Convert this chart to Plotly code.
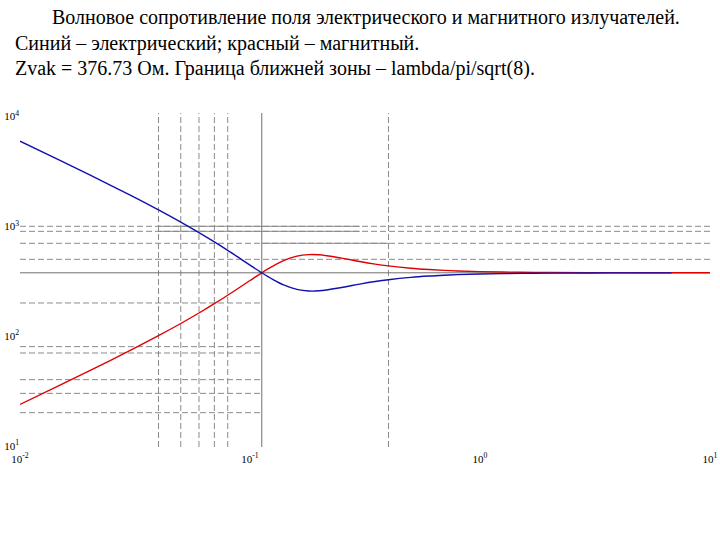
import plotly.graph_objects as go

# ---- data (distance r/lambda, wave impedance in Ohm) ----
dist_e = [0.01, 0.015, 0.02, 0.03, 0.04, 0.05, 0.06, 0.07, 0.08, 0.09, 0.1, 0.1125,
          0.125, 0.14, 0.16, 0.18, 0.2, 0.25, 0.3, 0.35, 0.4, 0.5, 0.6, 0.7, 0.8,
          1.0, 1.5, 2.0, 3.0, 5.0, 6.8]
z_electric = [5972, 3962, 2951, 1930, 1410, 1092, 876.2, 720.3, 603.1, 513.0, 442.9, 376.9,
              329.7, 292.1, 265.7, 257.0, 258.3, 276.9, 297.2, 313.6, 325.9, 342.3, 352.0, 358.2, 362.4,
              367.4, 372.5, 374.4, 375.7, 376.35, 376.52]

dist_h = [0.01, 0.015, 0.02, 0.03, 0.04, 0.05, 0.06, 0.07, 0.08, 0.09, 0.1, 0.1125,
          0.125, 0.14, 0.16, 0.18, 0.2, 0.25, 0.3, 0.35, 0.4, 0.5, 0.6, 0.7, 0.8,
          1.0, 1.5, 2.0, 3.0, 5.0, 10.0]
z_magnetic = [23.76, 35.82, 48.09, 73.53, 100.65, 129.97, 161.98, 197.04, 235.3, 276.7, 320.4, 376.6,
              430.5, 485.9, 534.2, 552.2, 549.5, 512.6, 477.5, 452.6, 435.5, 414.7, 403.2, 396.2, 391.6,
              386.3, 381.0, 379.1, 377.8, 377.11, 376.83]

z_vak = 376.73
near_zone = 0.1125

x_min, x_max = 0.01, 10.0
vgrid_x = [0.04, 0.05, 0.06, 0.07, 0.08, 0.4]
hgrid_full = [500, 700, 900, 1000]
hgrid_left = [20, 30, 40, 70, 80, 200]
hgrid_left_end = 0.1125

x_tick_vals = [0.01, 0.1, 1, 10]
x_tick_text = ["10<sup>-2</sup>", "10<sup>-1</sup>", "10<sup>0</sup>", "10<sup>1</sup>"]
y_tick_vals = [10, 100, 1000, 10000]
y_tick_text = ["10<sup>1</sup>", "10<sup>2</sup>", "10<sup>3</sup>", "10<sup>4</sup>"]

title_lines = [
    "Волновое сопротивление поля электрического и магнитного излучателей.",
    "Синий – электрический; красный – магнитный.",
    "Zvak = 376.73 Ом. Граница ближней зоны – lambda/pi/sqrt(8).",
]

Y_LOG_RANGE = [0.98815, 4.0328]
y_lo, y_hi = 10 ** Y_LOG_RANGE[0], 10 ** Y_LOG_RANGE[1]

GRID = "#8a8a8a"
SOLID = "#707070"
DASH = "6px,3px"

fig = go.Figure()

def add_line(xs, ys, color, dash=None, width=1.0):
    fig.add_trace(go.Scatter(x=xs, y=ys, mode="lines", hoverinfo="skip", showlegend=False,
                             line=dict(color=color, width=width, dash=dash)))

# dashed vertical grid
for xv in vgrid_x:
    add_line([xv, xv], [y_lo, y_hi], GRID, DASH)
# horizontal grid
for yv in hgrid_full:
    add_line([x_min, x_max], [yv, yv], GRID, DASH)
for yv in hgrid_left:
    add_line([x_min, hgrid_left_end], [yv, yv], GRID, DASH)
# solid segments seen in the reference
for yv in [900, 1000]:
    add_line([0.04, 0.3], [yv, yv], GRID)
add_line([0.1125, 0.4], [700, 700], GRID)

# solid reference lines
add_line([near_zone, near_zone], [y_lo, y_hi], SOLID)
add_line([x_min, x_max], [z_vak, z_vak], SOLID)

# curves
fig.add_trace(go.Scatter(x=dist_h, y=z_magnetic, mode="lines", showlegend=False,
                         line=dict(color="#e00000", width=1.4, shape="spline")))
fig.add_trace(go.Scatter(x=dist_e, y=z_electric, mode="lines", showlegend=False,
                         line=dict(color="#1010b0", width=1.4, shape="spline")))

L, T, W_PLOT, H_PLOT = 20, 113, 690, 334

def px_y(py):
    return (T + H_PLOT - py) / H_PLOT

def px_x(px):
    return (px - L) / W_PLOT

title_pos = [(50, 18), (13, 43), (13, 68)]
for text, (px, py) in zip(title_lines, title_pos):
    fig.add_annotation(text=text, xref="paper", yref="paper", x=px_x(px), y=px_y(py),
                       xanchor="left", yanchor="middle", showarrow=False,
                       font=dict(family="Liberation Serif", size=20, color="black"))

fig.update_layout(
    width=720, height=540,
    margin=dict(l=L, r=720 - L - W_PLOT, t=T, b=540 - T - H_PLOT),
    paper_bgcolor="white", plot_bgcolor="white",
    xaxis=dict(type="log", range=[-2, 1], showgrid=False, zeroline=False, showline=False,
               automargin=False, ticklabelstandoff=4,
               tickvals=x_tick_vals, ticktext=x_tick_text, ticks="",
               tickfont=dict(family="Liberation Serif", size=11, color="black")),
    yaxis=dict(type="log", range=Y_LOG_RANGE, showgrid=False, zeroline=False, showline=False,
               automargin=False,
               tickvals=y_tick_vals, ticktext=y_tick_text, ticks="",
               tickfont=dict(family="Liberation Serif", size=11, color="black")),
)

fig.write_html("out.html", config={"displayModeBar": False},
               post_script="document.body.style.margin='0';document.body.style.overflow='hidden';")
